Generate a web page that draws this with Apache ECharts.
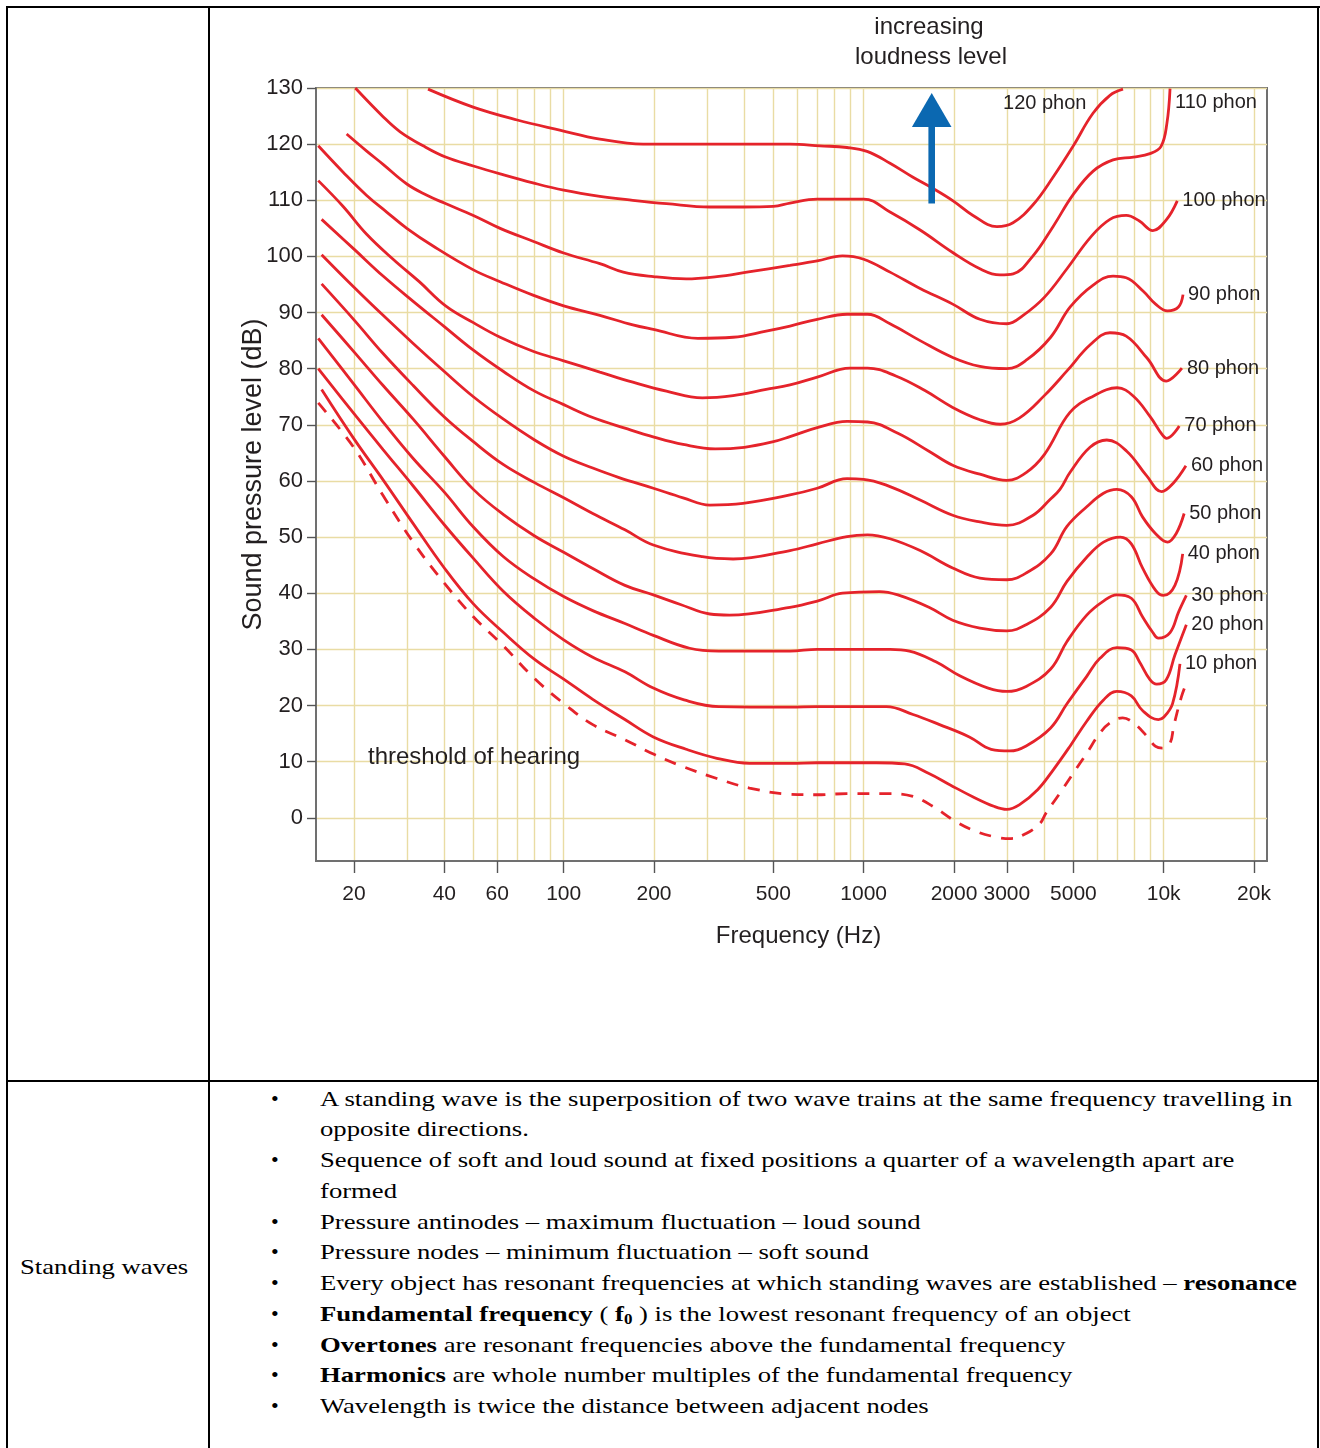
<!DOCTYPE html>
<html>
<head>
<meta charset="utf-8">
<script src="https://cdn.jsdelivr.net/npm/echarts@6/dist/echarts.min.js"></script>
<style>
html,body{margin:0;padding:0;background:#fff;}
#page{position:relative;width:1320px;height:1448px;overflow:hidden;background:#fff;}
.ln{position:absolute;background:#000;}
#chart{position:absolute;left:0;top:0;width:1320px;height:1448px;z-index:2;}
.tx{position:absolute;font-family:'Liberation Serif','Times New Roman',serif;font-size:22px;line-height:30px;white-space:nowrap;color:#000;transform-origin:0 50%;transform:scaleX(1.212);}
.tx b{font-weight:bold;}
.tx sub{font-size:14px;vertical-align:-3px;line-height:0;}
.bul{position:absolute;font-family:'Liberation Serif','Times New Roman',serif;font-size:22px;line-height:30px;color:#000;}
</style>
</head>
<body>
<div id="page">
  <div class="ln" style="left:6px;top:6px;width:1314px;height:2px;"></div>
  <div class="ln" style="left:6px;top:6px;width:2px;height:1442px;"></div>
  <div class="ln" style="left:208px;top:6px;width:2px;height:1442px;"></div>
  <div class="ln" style="left:1317px;top:6px;width:2px;height:1442px;"></div>
  <div class="ln" style="left:6px;top:1080px;width:1313px;height:2px;"></div>
  <div class="tx" style="left:20px;top:1252px;">Standing waves</div>
  <div id="bullets"></div>
  <div id="chart"></div>
</div>
<script>
// ---------- text of the lower table row ----------
const bulletLines = [
  [true,  'A standing wave is the superposition of two wave trains at the same frequency travelling in'],
  [false, 'opposite directions.'],
  [true,  'Sequence of soft and loud sound at fixed positions a quarter of a wavelength apart are'],
  [false, 'formed'],
  [true,  'Pressure antinodes – maximum fluctuation – loud sound'],
  [true,  'Pressure nodes – minimum fluctuation – soft sound'],
  [true,  'Every object has resonant frequencies at which standing waves are established – <b>resonance</b>'],
  [true,  '<b>Fundamental frequency</b> ( <b>f<sub>0</sub></b> ) is the lowest resonant frequency of an object'],
  [true,  '<b>Overtones</b> are resonant frequencies above the fundamental frequency'],
  [true,  '<b>Harmonics</b> are whole number multiples of the fundamental frequency'],
  [true,  'Wavelength is twice the distance between adjacent nodes']
];

// ---------- chart data ----------
const yTicks = [0, 10, 20, 30, 40, 50, 60, 70, 80, 90, 100, 110, 120, 130];
const xTickFreqs = [20, 40, 60, 100, 200, 500, 1000, 2000, 3000, 5000, 10000, 20000];
const xGridFreqs = [20, 30, 40, 50, 60, 70, 80, 90, 100, 200, 300, 400, 500, 600, 700, 800, 900,
                    1000, 2000, 3000, 4000, 5000, 6000, 7000, 8000, 9000, 10000, 20000];
const phonNames = ['120 phon', '110 phon', '100 phon', '90 phon', '80 phon', '70 phon',
                   '60 phon', '50 phon', '40 phon', '30 phon', '20 phon', '10 phon'];

const phon120 = [[35.3,129.8],[49.9,126.6],[70,124.3],[97,122.5],[132,120.9],[184,120],[307,120],[568,120],
  [715,119.7],[880,119.4],[1026,118.7],[1224,116.6],[1460,114.1],[1690,112.2],[1985,109.9],[2314,107.3],
  [2781,105.3],[3146,106],[3668,109.2],[4276,114.1],[4985,119.6],[5812,125.5],[6620,128.7],[7318,129.8]];
const phon110 = [[20.2,130],[25,124.9],[28.5,122.2],[34,119.7],[40.4,117.7],[50,116.1],[61.4,114.7],[79,113.1],
  [100,111.8],[132,110.7],[170,110],[220,109.4],[307,108.8],[396,108.8],[500,108.9],[568,109.5],[700,110.2],
  [1000,110.2],[1224,107.9],[1542,104.7],[1980,100.7],[2440,97.8],[2846,96.7],[3150,96.9],[3668,100.1],
  [4276,105.3],[4990,111],[5820,115.2],[6780,117.2],[7925,117.7],[9000,118.3],[9800,119.6],[10250,123.7],[10500,129.9]];
const phon100 = [[18.9,121.8],[22,118.8],[25,116.4],[30,112.9],[35,110.9],[40,109.5],[50,107.3],[61.4,105],
  [79,102.7],[100,100.6],[132,98.7],[158,97.2],[199,96.4],[256,96],[324,96.4],[408,97.2],[568,98.4],[700,99.2],
  [850,100.1],[1000,99.5],[1224,97.2],[1542,94.3],[1980,91.5],[2440,88.8],[3000,88],[3400,89.5],[4000,92.7],
  [4760,97.8],[5700,103.4],[6620,106.6],[7500,107.3],[8300,106.3],[9200,104.6],[10200,106.5],[11100,109.9]];
const phon90 = [[15.2,119.7],[18.4,115],[22,110.9],[25.7,107.9],[30,105],[36.8,101.8],[50,97.6],[61.4,95.5],
  [79,93.1],[100,91.2],[132,89.5],[170,87.8],[199,87],[280,85.4],[367,85.6],[473,86.7],[568,87.6],[700,88.8],
  [880,89.7],[1030,89.7],[1224,88],[1542,85],[1980,82],[2440,80.4],[3000,80],[3500,81.6],[4200,85.6],
  [4880,91],[5820,94.9],[6780,96.5],[7500,96.2],[8550,93.8],[9400,91.5],[10300,90.3],[11200,91],[11600,93.2]];
const phon80 = [[15.2,113.5],[18.4,108.9],[22,104],[27,99.5],[33,95.5],[40.4,91.2],[50,88.2],[61.4,85.6],
  [79,83.1],[100,81.4],[132,79.4],[170,77.6],[220,76],[290,74.8],[367,75.2],[473,76.3],[568,77.1],[700,78.5],
  [900,80.1],[1030,80.1],[1280,78.7],[1600,76.1],[1980,73.1],[2440,70.9],[2850,70.1],[3300,71.2],[4000,75.2],
  [4760,79.6],[5700,84.3],[6620,86.4],[7500,85.8],[8800,81.9],[10200,77.8],[11500,80.1]];
const phon70 = [[15.6,106.6],[20,101.3],[25,96.5],[31.5,92],[40,87.5],[50,83.3],[63,79.5],[80,76],[100,73.6],
  [125,71.3],[160,69.4],[200,67.8],[250,66.5],[320,65.7],[400,66],[500,67],[568,67.9],[700,69.5],[880,70.6],
  [1030,70.5],[1300,68.5],[1650,65.3],[1980,62.8],[2440,61.2],[3000,60.1],[3480,61.5],[4000,64.7],
  [4870,72.2],[5820,75.1],[7000,76.6],[7930,75.1],[9000,71.5],[9900,68.2],[10230,67.6],[11270,69.8]];
const phon60 = [[15.6,100.3],[20,94.5],[25,89.5],[31.5,84.5],[40,79.5],[50,75],[63,71],[80,67.3],[100,64.4],
  [125,62.3],[153,60.6],[199,58.7],[250,57],[307,55.7],[396,56],[568,57.5],[700,58.7],[880,60.4],[1000,60.3],
  [1224,59],[1542,56.6],[1980,53.9],[2440,52.7],[3000,52.1],[3670,53.9],[4180,56.7],[4510,58.5],[4870,61.5],
  [5680,66],[6460,67.3],[7530,65.3],[8780,60.9],[9850,58.1],[10760,59.6],[11860,62.7]];
const phon50 = [[15.6,95.1],[20,88.7],[25,82.7],[31.5,77],[40,71.4],[50,67],[63,62.9],[80,59.7],
  [100,57],[125,54.2],[160,51.3],[199,48.6],[290,46.5],[367,46.1],[568,47.6],[700,48.8],[880,50.1],[1030,50.4],
  [1224,49.7],[1542,47.6],[1980,44.5],[2440,42.7],[3000,42.4],[3480,43.6],[4200,47],[4760,51.9],[5540,55.4],
  [6300,57.8],[6980,58.5],[7800,57.2],[8500,53.6],[9400,50.6],[10300,49.1],[11000,50.6],[11700,54.2]];
const phon40 = [[15.6,89.6],[20,83],[25,77],[31.5,71],[40,64.4],[50,58.5],[63,54],[80,50.2],[100,47.3],
  [125,44.4],[160,41.4],[199,39.7],[245,38],[307,36.3],[357,36.1],[568,37.5],[700,38.6],[850,40],[1130,40.3],
  [1300,39.7],[1650,37.5],[1980,35.2],[2440,33.8],[3000,33.3],[3480,34.4],[4200,37.5],[4760,42.1],[5540,46.4],
  [6300,49.1],[7170,50],[7800,48.8],[8500,44.5],[9400,40.5],[9970,39.6],[10900,41.4],[11570,47]];
const phon30 = [[15.2,85.4],[20,77.2],[25,70.5],[31.5,64],[40,58],[50,51.8],[63,46.5],
  [80,42.5],[100,39.4],[125,36.9],[160,34.6],[199,32.5],[263,30.2],[329,29.7],[568,29.7],[700,30],[1000,30],
  [1224,30],[1420,29.7],[1740,27.8],[2090,25.3],[2600,23.1],[3000,22.5],[3480,23.4],[4200,26.5],[4760,31.4],
  [5540,36.1],[6300,38.6],[6980,39.7],[7800,39.1],[8500,35.8],[9200,33],[9600,32],[10500,33],[11200,36.6],[11900,39.6]];
const phon20 = [[15.2,80],[20,72],[25,65.6],[31.5,59.1],[40,52.2],[50,46.2],[63,40.3],
  [80,35.5],[100,31.7],[125,28.6],[160,26],[199,23.1],[252,21],[329,19.8],[568,19.7],[700,19.8],
  [1190,19.8],[1460,18.4],[1790,16.6],[2250,14.4],[2660,12.2],[3070,11.9],[3480,12.8],[4200,16],[4760,20.3],
  [5540,25.2],[6130,28.4],[6980,30.3],[7800,29.9],[8300,27.8],[9000,24.6],[9480,23.8],[10200,24.6],[10900,29],[11900,34.4]];
const phon10 = [[15.6,76.3],[20,67.5],[25,60.2],[31.5,52.4],[40,44.5],[50,38.1],[63,33],
  [80,28.2],[100,24.7],[125,21.1],[160,17.5],[199,14.4],[256,12.2],[324,10.6],[416,9.7],[568,9.7],[700,9.8],
  [1100,9.8],[1370,9.6],[1650,7.9],[1950,5.8],[2300,3.8],[2730,2],[3000,1.5],[3300,2.3],[3800,5],[4280,8.5],
  [4880,12.8],[5540,17.2],[6300,21],[6980,22.5],[7800,21.7],[8500,19.1],[9600,17.5],[10000,17.9],[10700,20.3],[11330,27.4]];
const thresholdOfHearing = [[15.2,73.9],[20,65.9],[25,57.4],[31.5,49.1],[40,41.8],[50,35.8],[63,30.6],
  [80,24.8],[102,20],[125,16.6],[160,13.9],[200,11.3],[250,9.1],[324,7],[416,5.3],
  [568,4.2],[700,4.1],[880,4.3],[1224,4.3],[1460,3.8],[1706,2],[1990,-0.4],[2313,-2.2],[2733,-3.4],[3100,-3.7],
  [3480,-2.8],[3870,-1],[4050,0.8],[4510,4.4],[4990,7.9],[5540,11.5],[6130,15.1],[6620,16.9],[7300,17.8],
  [7930,16.9],[8800,14.5],[9400,12.7],[9900,12.4],[10500,13.3],[10800,16.3],[11450,21.5],[11900,24]];

const curveData = [phon120, phon110, phon100, phon90, phon80, phon70, phon60, phon50, phon40, phon30, phon20, phon10];

// ---------- build lower text ----------
(function () {
  const host = document.getElementById('bullets');
  let html = '';
  bulletLines.forEach(function (l, i) {
    const top = 1083.6 + 30.75 * i;
    if (l[0]) html += '<div class="bul" style="left:271px;top:' + top + 'px;">•</div>';
    html += '<div class="tx" style="left:320px;top:' + top + 'px;">' + l[1] + '</div>';
  });
  host.innerHTML = html;
})();

// ---------- chart ----------
const X_MIN = 14.94, X_MAX = 22100, Y_MIN = -7.7, Y_MAX = 130;
const RED = '#e5232b';
const GRID_COLOR = '#e9dca4';
const AXIS_COLOR = '#707070';
const TXT = '#231f20';
const SANS = "'Liberation Sans',Arial,Helvetica,sans-serif";

function fmtFreq(v) {
  const f = Math.round(Math.pow(10, v));
  return f >= 10000 ? (f / 1000) + 'k' : String(f);
}

const endOffsets = { '120 phon': [-125, 14], '110 phon': [0, 14] };

const series = curveData.map(function (d, i) {
  const nm = phonNames[i];
  return {
    name: nm, type: 'line', xAxisIndex: 0, yAxisIndex: 0,
    data: d, smooth: 0.4, symbol: 'none', silent: true, animation: false,
    lineStyle: { color: RED, width: 2.8 },
    endLabel: {
      show: true, formatter: nm, color: TXT, fontSize: 20, fontFamily: SANS,
      distance: 5, offset: endOffsets[nm] || [0, 0]
    },
    z: 3
  };
});
series.push({
  name: 'threshold of hearing', type: 'line', xAxisIndex: 0, yAxisIndex: 0,
  data: thresholdOfHearing, smooth: 0.4, symbol: 'none', silent: true, animation: false,
  lineStyle: { color: RED, width: 2.8, type: [12, 10] }, z: 3
});

const chart = echarts.init(document.getElementById('chart'), null, { renderer: 'canvas' });
chart.setOption({
  animation: false,
  backgroundColor: 'transparent',
  textStyle: { fontFamily: SANS },
  grid: {
    left: 316, right: 53, top: 88, bottom: 587,
    show: true, borderColor: AXIS_COLOR, borderWidth: 2, backgroundColor: 'transparent',
    containLabel: false, outerBoundsMode: 'none'
  },
  xAxis: [
    { type: 'log', logBase: 10, min: X_MIN, max: X_MAX, show: false, position: 'bottom' },
    {
      type: 'value', min: Math.log10(X_MIN), max: Math.log10(X_MAX), position: 'bottom',
      axisLine: { show: false }, axisLabel: { show: false },
      axisTick: { show: false, customValues: xGridFreqs.map(Math.log10) },
      splitLine: { show: true, lineStyle: { color: GRID_COLOR, width: 1.4 } }
    },
    {
      type: 'value', min: Math.log10(X_MIN), max: Math.log10(X_MAX), position: 'bottom',
      axisLine: { show: true, onZero: false, lineStyle: { color: AXIS_COLOR, width: 2 } },
      axisTick: { show: true, customValues: xTickFreqs.map(Math.log10), length: 12, inside: false,
                  lineStyle: { color: '#555', width: 1.4 } },
      axisLabel: { show: true, customValues: xTickFreqs.map(Math.log10), formatter: fmtFreq,
                   margin: 23, color: TXT, fontSize: 21, fontFamily: SANS },
      splitLine: { show: false },
      name: 'Frequency (Hz)', nameLocation: 'middle', nameGap: 63, nameMoveOverlap: false,
      nameTextStyle: { color: TXT, fontSize: 24, fontFamily: SANS, padding: [0, 0, 0, 14] }
    }
  ],
  yAxis: [{
    type: 'value', min: Y_MIN, max: Y_MAX, position: 'left',
    axisLine: { show: true, onZero: false, lineStyle: { color: AXIS_COLOR, width: 2 } },
    axisTick: { show: true, customValues: yTicks, length: 9, inside: false,
                lineStyle: { color: '#555', width: 1.4 } },
    axisLabel: { show: true, customValues: yTicks, margin: 13, color: TXT, fontSize: 22, fontFamily: SANS },
    splitLine: { show: true, lineStyle: { color: GRID_COLOR, width: 1.4 } },
    name: 'Sound pressure level (dB)', nameLocation: 'middle', nameGap: 49, nameMoveOverlap: false,
    nameTextStyle: { color: TXT, fontSize: 27, fontFamily: SANS }
  }],
  graphic: [
    { type: 'text', left: 368, top: 745, z: 10,
      style: { text: 'threshold of hearing', fill: TXT, font: '24px ' + SANS } },
    { type: 'text', x: 929, y: 27, z: 10,
      style: { text: 'increasing', fill: TXT, font: '24px ' + SANS, textAlign: 'center', textVerticalAlign: 'middle' } },
    { type: 'text', x: 931, y: 57, z: 10,
      style: { text: 'loudness level', fill: TXT, font: '24px ' + SANS, textAlign: 'center', textVerticalAlign: 'middle' } },
    { type: 'rect', z: 10, shape: { x: 928.4, y: 124, width: 6.6, height: 79.5 }, style: { fill: '#0b68b1' } },
    { type: 'polygon', z: 10, shape: { points: [[931.7, 93], [951.5, 127], [911.9, 127]] }, style: { fill: '#0b68b1' } }
  ],
  series: series
});
</script>
</body>
</html>
